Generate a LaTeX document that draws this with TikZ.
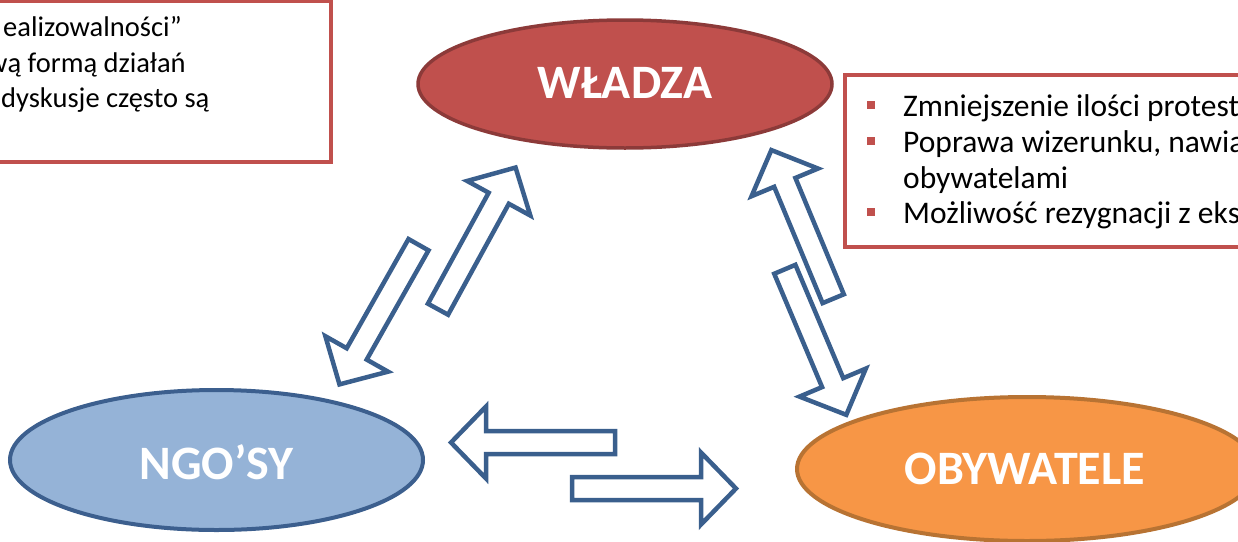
\documentclass[tikz,border=0pt]{standalone}
\usepackage{fontspec}
\setmainfont{Carlito}
\usetikzlibrary{shapes.geometric}
\definecolor{wred}{HTML}{C0504D}
\definecolor{wredb}{HTML}{8C3A39}
\definecolor{nblue}{HTML}{95B3D7}
\definecolor{nblueb}{HTML}{3C5F8E}
\definecolor{oorg}{HTML}{F79646}
\definecolor{oorgb}{HTML}{B87333}
\definecolor{abl}{HTML}{3A5F8D}
\newcommand\blockarrow[3]{%
  \begin{scope}[shift={(#1)},rotate=#2]
    \draw[hollowarr] (0,-11.5) -- ({#3-35},-11.5) -- ({#3-35},-36) -- (#3,0)
      -- ({#3-35},36) -- ({#3-35},11.5) -- (0,11.5) -- cycle;
  \end{scope}}
\tikzset{
  hollowarr/.style={draw=abl, line width=4.5pt, fill=white, line join=miter},
  bubble/.style={ellipse, line width=4pt, inner sep=0pt},
  bubbletext/.style={text=white, inner sep=0pt, font=\fontsize{48}{56}\selectfont\bfseries},
  infobox/.style={draw=wred, line width=4pt, fill=white},
  lefttext/.style={anchor=base west, inner sep=0pt, font=\fontsize{28.5}{34}\selectfont},
  righttext/.style={anchor=base west, inner sep=0pt, font=\fontsize{31.5}{36}\selectfont},
  bulletsq/.style={fill=wred, minimum size=8pt, inner sep=0pt}
}
\begin{document}
\begin{tikzpicture}[x=1pt,y=-1pt]
\useasboundingbox (0,0) rectangle (1238,541);
% ellipses
\node[bubble, fill=wred, draw=wredb, line width=3.5pt, minimum width=414pt, minimum height=128pt] (wladza) at (625,84) {};
\node[bubbletext] (wladzat) at (625,83) {WŁADZA};
\node[bubble, fill=nblue, draw=nblueb, minimum width=413pt, minimum height=140pt] (ngo) at (216.5,460) {};
\node[bubbletext] (ngot) at (216.5,462.5) {NGO’SY};
\node[bubble, fill=oorg, draw=oorgb, minimum width=460pt, minimum height=144pt] (oby) at (1027,469) {};
\node[bubbletext] (obyt) at (1025,469) {OBYWATELE};
% left box
\draw[infobox] (-10,1) rectangle (331,162);
\node[lefttext] (l1) at (3,36) {ealizowalności”};
\node[lefttext] (l2) at (-13,72) {wą formą działań};
\node[lefttext] (l3) at (1,107) {dyskusje często są};
% right box
\draw[infobox] (845,75) rectangle (1260,247);
\node[bulletsq] (b1) at (871,105) {};
\node[bulletsq] (b2) at (871,141) {};
\node[bulletsq] (b3) at (871,212) {};
\node[righttext] (r1) at (903,116) {Zmniejszenie ilości protest};
\node[righttext] (r2) at (903,152) {Poprawa wizerunku, nawia};
\node[righttext] (r3) at (903,188) {obywatelami};
\node[righttext] (r4) at (903,223) {Możliwość rezygnacji z eks};
% arrows
\coordinate (a1) at (438,309.2);
\coordinate (a2) at (418.5,244.7);
\coordinate (a3) at (833.2,298.7);
\coordinate (a4) at (784.8,269.3);
\coordinate (a5) at (615,442.5);
\coordinate (a6) at (572,488.5);
\blockarrow{a1}{61.3}{161.5}
\blockarrow{a2}{240.5}{160.5}
\blockarrow{a3}{112.6}{161}
\blockarrow{a4}{-67.1}{158}
\blockarrow{a5}{180}{164}
\blockarrow{a6}{0}{164}
\end{tikzpicture}
\end{document}
